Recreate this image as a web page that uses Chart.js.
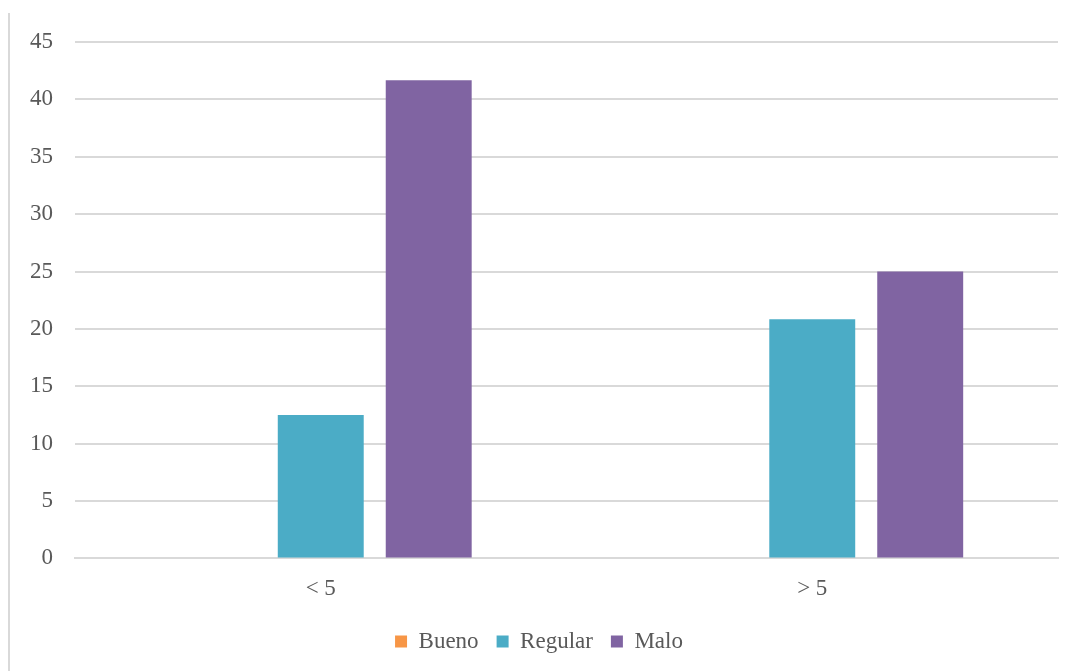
<!DOCTYPE html>
<html>
<head>
<meta charset="utf-8">
<script src="https://cdn.jsdelivr.net/npm/chart.js@4"></script>
<style>
  html, body { margin: 0; padding: 0; background: #fff; }
  #wrap { position: relative; width: 1075px; height: 671px; }
  #frame { position: absolute; left: 8px; top: 13px; width: 2px; height: 658px; background: #d9d9d9; }
</style>
</head>
<body>
<div id="wrap">
  <div id="frame"></div>
  <canvas id="graph-box" width="1075" height="671"></canvas>
</div>
<script>
const categories = ['< 5', '> 5'];
const bueno = [0, 0];
const regular = [12.5, 20.83];
const malo = [41.67, 25];
const yTicks = [0, 5, 10, 15, 20, 25, 30, 35, 40, 45];

const ctx = document.getElementById('graph-box');
Chart.defaults.font.family = '"Liberation Serif", "DejaVu Serif", serif';
Chart.defaults.color = '#595959';

const myChart = new Chart(ctx, {
  type: 'bar',
  data: {
    labels: categories,
    datasets: [
      { label: 'Bueno', data: bueno, backgroundColor: '#F79646' },
      { label: 'Regular', data: regular, backgroundColor: '#4BACC6' },
      { label: 'Malo', data: malo, backgroundColor: '#8064A2' }
    ]
  },
  options: {
    responsive: false,
    animation: false,
    categoryPercentage: 0.659,
    barPercentage: 0.796,
    layout: { padding: { left: 20, right: 17, top: 42, bottom: 8 } },
    plugins: {
      tooltip: { enabled: false },
      legend: {
        position: 'bottom',
        labels: {
          boxWidth: 12,
          boxHeight: 12,
          padding: 18,
          font: { size: 23 }
        }
      }
    },
    scales: {
      x: {
        grid: { display: false },
        border: { color: '#d9d9d9', width: 2 },
        ticks: { font: { size: 23 }, padding: 9 }
      },
      y: {
        min: 0,
        max: 45,
        afterBuildTicks: (axis) => { axis.ticks = yTicks.map(v => ({ value: v })); },
        afterFit: (axis) => { axis.width = 55; },
        grid: { color: '#d9d9d9', lineWidth: 2, drawTicks: false },
        border: { display: false },
        ticks: { font: { size: 23 }, padding: 22 }
      }
    }
  }
});
</script>
</body>
</html>
